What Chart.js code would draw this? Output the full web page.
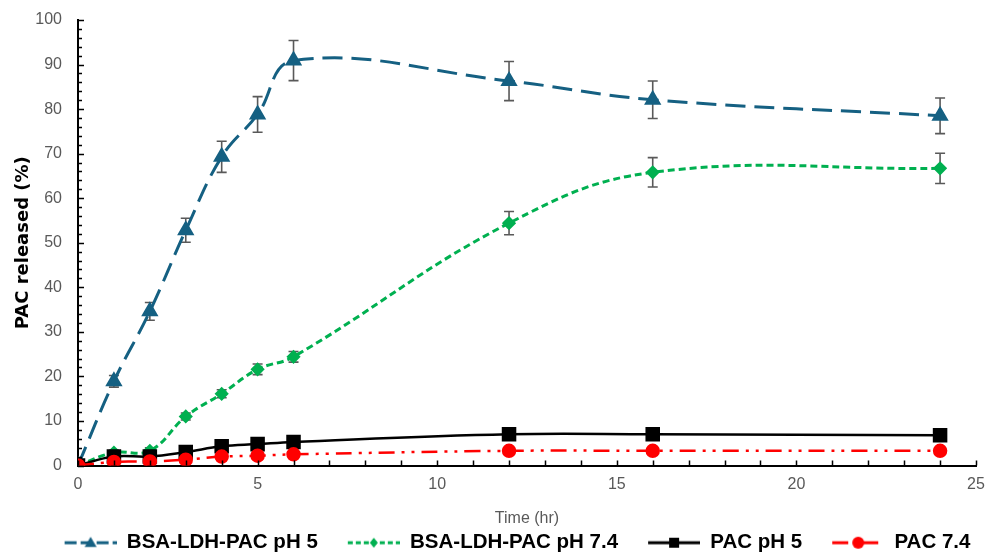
<!DOCTYPE html>
<html>
<head>
<meta charset="utf-8">
<script src="https://cdn.jsdelivr.net/npm/chart.js@4.4.1/dist/chart.umd.min.js"></script>
<style>
  html, body { margin: 0; padding: 0; background: #fff; }
  #wrap { width: 987px; height: 554px; position: relative; }
</style>
</head>
<body>
<div id="wrap"><canvas id="releaseChart"></canvas></div>
<script>
// sampling times (hr)
const hours = [0, 1, 2, 3, 4, 5, 6, 12, 16, 24];

// cumulative PAC release (%) and standard deviations
const bsaPh5 = [0, 18.9, 34.6, 52.8, 69.3, 78.8, 90.9, 86.3, 82.1, 78.5];
const bsaPh5Err = [0, 1.3, 2.0, 2.7, 3.5, 4.0, 4.5, 4.4, 4.2, 4.0];
const bsaPh74 = [0, 2.9, 3.3, 11.0, 16.1, 21.6, 24.4, 54.4, 65.8, 66.7];
const bsaPh74Err = [0, 0.5, 0.7, 0.8, 0.9, 1.2, 1.2, 2.6, 3.3, 3.4];
const pacPh5 = [0, 2.0, 2.0, 3.0, 4.3, 4.8, 5.3, 7.0, 7.0, 6.8];
const pacPh74 = [0, 0.8, 0.9, 1.3, 2.0, 2.2, 2.5, 3.3, 3.3, 3.3];

const seriesNames = ['BSA-LDH-PAC pH 5', 'BSA-LDH-PAC pH 7.4', 'PAC pH 5', 'PAC 7.4'];
const xTicks = [0, 5, 10, 15, 20, 25];
const yTicks = [0, 10, 20, 30, 40, 50, 60, 70, 80, 90, 100];

const toPoints = vals => vals.map((v, i) => ({ x: hours[i], y: v }));

// legend symbol: blank lead-in (item spacing), then line + marker
const SW_GAP = 26, SW_LEN = 52;
function legendSwatch(color, dash, width, style, r) {
  const c = document.createElement('canvas');
  c.width = SW_GAP + SW_LEN; c.height = 16;
  const g = c.getContext('2d');
  const x0 = SW_GAP, cx = SW_GAP + SW_LEN / 2;
  g.strokeStyle = color;
  g.lineWidth = width;
  g.setLineDash(dash);
  g.beginPath(); g.moveTo(x0, 8); g.lineTo(x0 + SW_LEN, 8); g.stroke();
  g.setLineDash([]);
  g.fillStyle = color;
  g.beginPath();
  if (style === 'triangle') { g.moveTo(cx, 8 - r); g.lineTo(cx + r, 8 + r * 0.7); g.lineTo(cx - r, 8 + r * 0.7); }
  else if (style === 'rectRot') { g.moveTo(cx, 8 - r); g.lineTo(cx + r * 0.8, 8); g.lineTo(cx, 8 + r); g.lineTo(cx - r * 0.8, 8); }
  else if (style === 'rect') { g.rect(cx - r, 8 - r, 2 * r, 2 * r); }
  else { g.arc(cx, 8, r, 0, Math.PI * 2); }
  g.closePath(); g.fill();
  return c;
}

// vertical error bars with caps
const errorBars = {
  id: 'errorBars',
  beforeDatasetsDraw(chart) {
    const { ctx, scales: { x, y } } = chart;
    ctx.save();
    ctx.strokeStyle = '#595959';
    ctx.lineWidth = 1.6;
    chart.data.datasets.forEach(ds => {
      if (!ds.err) return;
      ds.data.forEach((p, i) => {
        const e = ds.err[i];
        if (!e) return;
        const px = x.getPixelForValue(p.x);
        const top = y.getPixelForValue(p.y + e);
        const bot = y.getPixelForValue(p.y - e);
        ctx.beginPath();
        ctx.moveTo(px, top); ctx.lineTo(px, bot);
        ctx.moveTo(px - 5, top); ctx.lineTo(px + 5, top);
        ctx.moveTo(px - 5, bot); ctx.lineTo(px + 5, bot);
        ctx.stroke();
      });
    });
    ctx.restore();
  }
};

// tick marks drawn inward from the axes, major and minor
const innerTicks = {
  id: 'innerTicks',
  afterDatasetsDraw(chart) {
    const { ctx, scales: { x, y }, chartArea } = chart;
    ctx.save();
    ctx.strokeStyle = '#000';
    ctx.lineWidth = 1.5;
    ctx.beginPath();
    for (let v = 0; v <= 25; v += 1) {
      const px = Math.round(x.getPixelForValue(v)) + 0.5;
      ctx.moveTo(px, chartArea.bottom);
      ctx.lineTo(px, chartArea.bottom - 5);
    }
    for (let v = 0; v <= 100; v += 2) {
      const py = Math.round(y.getPixelForValue(v)) + 0.5;
      const len = v % 10 === 0 ? 6 : 4;
      ctx.moveTo(chartArea.left, py);
      ctx.lineTo(chartArea.left + len, py);
    }
    ctx.stroke();
    ctx.restore();
  }
};

// nudge the legend row right to balance the blank lead-in of the first swatch
const legendShift = {
  id: 'legendShift',
  afterLayout(chart) {
    if (!chart.legend) return;
    chart.legend.left += 10;
    chart.legend.right += 10;
  }
};

const datasets = [
  {
    label: seriesNames[0], data: toPoints(bsaPh5), err: bsaPh5Err,
    borderColor: '#156082', backgroundColor: '#156082', borderWidth: 3,
    borderDash: [20, 9], pointStyle: 'triangle', pointRadius: 7, order: 3,
    swatch: legendSwatch('#156082', [12, 4], 3, 'triangle', 6)
  },
  {
    label: seriesNames[1], data: toPoints(bsaPh74), err: bsaPh74Err,
    borderColor: '#00B050', backgroundColor: '#00B050', borderWidth: 3,
    borderDash: [7, 4], pointStyle: 'rectRot', pointRadius: 5, order: 2,
    swatch: legendSwatch('#00B050', [5, 3], 3, 'rectRot', 5)
  },
  {
    label: seriesNames[2], data: toPoints(pacPh5),
    borderColor: '#000000', backgroundColor: '#000000', borderWidth: 2.5,
    borderDash: [], pointStyle: 'rect', pointRadius: 8.5, order: 1,
    swatch: legendSwatch('#000000', [], 3, 'rect', 5)
  },
  {
    label: seriesNames[3], data: toPoints(pacPh74),
    borderColor: '#FF0000', backgroundColor: '#FF0000', borderWidth: 2.5,
    borderDash: [16, 7, 3, 7, 3, 7], pointStyle: 'circle', pointRadius: 6, order: 0,
    swatch: legendSwatch('#FF0000', [16, 6, 2, 6], 3, 'circle', 6)
  }
];

Chart.defaults.font.family = "'Liberation Sans', Arial, sans-serif";

new Chart(document.getElementById('releaseChart'), {
  type: 'line',
  data: { datasets },
  options: {
    responsive: true,
    maintainAspectRatio: false,
    animation: false,
    layout: { padding: { top: 20, right: 10, left: 12, bottom: -9 } },
    elements: {
      line: { tension: 0.4, fill: false },
      point: { hoverRadius: 6, borderWidth: 0 }
    },
    plugins: {
      tooltip: { enabled: false },
      legend: {
        position: 'bottom',
        labels: {
          usePointStyle: true,
          pointStyleWidth: SW_GAP + SW_LEN,
          padding: 4,
          color: '#000',
          font: { size: 20.5, weight: 'bold' },
          generateLabels(chart) {
            return chart.data.datasets.map((ds, i) => ({
              text: ds.label,
              pointStyle: ds.swatch,
              fillStyle: ds.borderColor,
              strokeStyle: ds.borderColor,
              lineWidth: 0,
              hidden: false,
              datasetIndex: i,
              fontColor: '#000'
            }));
          }
        }
      }
    },
    scales: {
      x: {
        type: 'linear',
        min: 0, max: 25,
        afterBuildTicks: s => { s.ticks = xTicks.map(v => ({ value: v })); },
        afterFit: s => { s.height = 63; s.paddingRight = 0; s.paddingLeft = 0; },
        ticks: { color: '#595959', font: { size: 16 }, padding: 9 },
        grid: { display: false, drawTicks: false },
        border: { color: '#000', width: 2 },
        title: {
          display: true, text: 'Time (hr)', color: '#595959',
          font: { size: 16 }, padding: { top: 9, bottom: 0 }
        }
      },
      y: {
        min: 0, max: 100,
        afterBuildTicks: s => { s.ticks = yTicks.map(v => ({ value: v })); },
        afterFit: s => { s.width = 66; s.paddingTop = 0; s.paddingBottom = 0; },
        ticks: { color: '#595959', font: { size: 16 }, padding: 16 },
        grid: { display: false, drawTicks: false },
        border: { color: '#000', width: 2 },
        title: {
          display: true, text: 'PAC released (%)', color: '#000',
          font: { family: "'DejaVu Sans', sans-serif", size: 18, weight: 'bold' },
          padding: { top: 1, bottom: 3 }
        }
      }
    }
  },
  plugins: [errorBars, innerTicks, legendShift]
});
</script>
</body>
</html>
